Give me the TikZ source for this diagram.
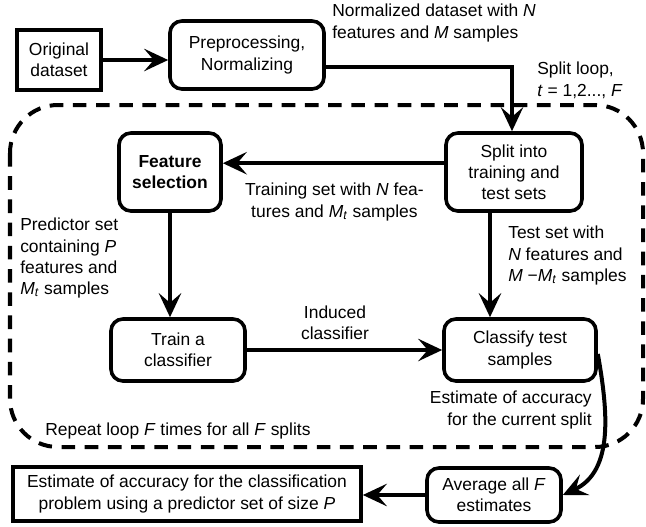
\documentclass[tikz,border=0pt]{standalone}
\usepackage{fontspec}
\setmainfont{Liberation Sans}
\usetikzlibrary{arrows.meta}

\newcommand{\Mt}{\textit{M}\textsubscript{\textit{t}}}

\tikzset{
	box/.style={draw, line width=0.9mm, rounded corners=3mm, align=center, inner sep=2pt},
	plainbox/.style={draw, line width=0.9mm, align=center, inner sep=2pt},
	lbl/.style={inner sep=0pt},
	arrow/.style={-{Stealth[length=6mm, width=5.6mm, inset=2.4mm]}, line width=1mm},
	looppath/.style={line width=1mm, dash pattern=on 3.4mm off 2.4mm}
}

\begin{document}
\begin{tikzpicture}[x=0.025cm, y=-0.025cm, font=\fontsize{12.4}{15}\selectfont]
	
	\useasboundingbox (0,0) rectangle (646,527);
	
	% dashed split loop
	\draw[looppath, rounded corners=12mm] (10,105) rectangle (643,447);
	
	\node (orig) at (59,60) [plainbox, minimum width=2.1cm, minimum height=1.5cm] {Original\\dataset};
	\node (prep) at (247,55) [box, minimum width=3.85cm, minimum height=1.7cm] {Preprocessing,\\Normalizing};
	
	\node (split) at (514,172) [box, minimum width=3.4cm, minimum height=1.95cm] {Split into\\training and\\test sets};
	\node (feat) at (170,172) [box, minimum width=2.55cm, minimum height=1.95cm] {\textbf{Feature}\\\textbf{selection}};
	
	\node (train) at (178,350) [box, minimum width=3.35cm, minimum height=1.55cm] {Train a\\classifier};
	\node (classify) at (520,350) [box, minimum width=3.8cm, minimum height=1.55cm] {Classify test\\samples};
	
	\node (avg) at (494,495) [box, minimum width=3.35cm, minimum height=1.35cm] {Average all \textit{F}\\estimates};
	\node (final) at (187,494) [plainbox, minimum width=8.7cm, minimum height=1.35cm] {Estimate of accuracy for the classification\\problem using a predictor set of size \textit{P}};
	
	\draw [arrow] (orig.east) -- (orig.east -| prep.west);
	\draw [arrow] ([yshift=-3mm]prep.east) -| ([xshift=-0.5mm]split.north);
	\draw [arrow] ([yshift=2.2mm]split.west) -- ([yshift=2.2mm]split.west -| feat.east);
	\draw [arrow] (feat.south) -- (feat.south |- train.north);
	\draw [arrow] ([xshift=-6mm]split.south) -- ([xshift=-6mm]split.south |- classify.north);
	\draw [arrow] (train.east) -- (train.east -| classify.west);
	\draw [arrow] ([yshift=-1mm]classify.east) to[out=-80, in=25] (avg.east);
	\draw [arrow] (avg.west) -- (avg.west -| final.east);
	
	\node (normlbl) at (332,4) [lbl, anchor=north west, align=left] {Normalized dataset with \textit{N}\\features and \textit{M} samples};
	\node (looplbl) at (537,62) [lbl, anchor=north west, align=left] {Split loop,\\ \textit{t} = 1,2..., \textit{F}};
	\node (trainlbl) at (424,183) [lbl, anchor=north east, align=center] {Training set with \textit{N} fea-\\tures and \Mt{} samples};
	\node (predlbl) at (20,218) [lbl, anchor=north west, align=left] {Predictor set\\containing \textit{P}\\features and\\\Mt{} samples};
	\node (testlbl) at (508,226) [lbl, anchor=north west, align=left] {Test set with\\\textit{N} features and\\\textit{M} −\Mt{} samples};
	\node (indlbl) at (335,323) [lbl, align=center] {Induced\\classifier};
	\node (estlbl) at (592,391) [lbl, anchor=north east, align=right] {Estimate of accuracy\\for the current split};
	\node (replbl) at (45,431) [lbl, anchor=west] {Repeat loop \textit{F} times for all \textit{F} splits};
	
\end{tikzpicture}
\end{document}
